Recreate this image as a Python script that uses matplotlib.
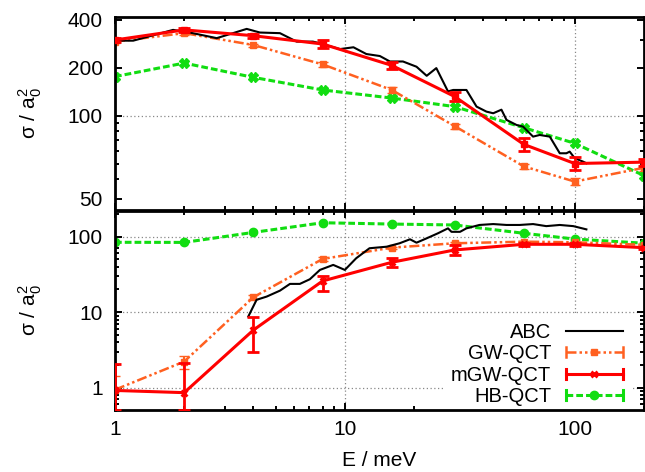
import matplotlib
matplotlib.use("Agg")
import matplotlib.pyplot as plt
from matplotlib.lines import Line2D
from matplotlib.legend_handler import HandlerLine2D
from matplotlib.ticker import NullFormatter, LogLocator

plt.rcParams['font.family'] = ['Liberation Sans', 'DejaVu Sans']
plt.rcParams['mathtext.fontset'] = 'custom'
plt.rcParams['mathtext.rm'] = 'Liberation Sans'
plt.rcParams['mathtext.it'] = 'Liberation Sans'

# energies of the QCT points (meV)
E_qct = [1, 2, 4, 8, 16, 30, 60, 100, 200]

# upper panel
mgw_top     = [299, 346, 318, 282, 207, 132, 66, 50, 51]
mgw_top_err = [9, 10, 9, 16, 10, 8.5, 6.3, 4.8, 2.5]
gw_top      = [292, 330, 278, 210, 145, 86, 48, 38.5, 47]
gw_top_err  = [6, 7, 6, 8, 6, 3, 2, 2, 2]
hb_top      = [176, 214, 174, 145, 129, 114, 84, 67, 42]

abc_top_E = [1.0, 1.2, 1.79, 2.18, 2.77, 3.26, 3.74, 4.27, 5.22, 6.17,
             7.26, 7.79, 9.51, 10.9, 12.4, 14.2, 15.7, 17.9, 20.5, 22.7,
             25.0, 28.1, 29.6, 33.8, 37.4, 41.3, 44.2, 48.0, 50.5, 55.8,
             59.6, 65.9, 70.4, 77.9, 86.1, 92.0, 95.1, 100, 108.7, 112.4]
abc_top = [296, 296, 346, 330, 307, 330, 351, 333, 330, 292,
           292, 285, 262, 269, 244, 237, 219, 219, 203, 178,
           199, 142, 145, 145, 114, 106, 103.5, 109, 94, 87.4,
           85.3, 73.8, 75.6, 73.8, 58, 58, 59.4, 54, 51.4, 50.2]

# lower panel
mgw_bot        = [0.92, 0.86, 5.8, 25.9, 45.8, 66.7, 79.3, 79.3, 71.6]
mgw_bot_err_lo = [0.41, 0.35, 2.8, 6.6, 5.8, 9.7, 4, 4, 2]
mgw_bot_err_hi = [1.13, 1.24, 2.8, 4.3, 5.9, 10.3, 4, 4, 2]
gw_bot         = [0.94, 2.22, 15.8, 50.7, 71.6, 81.8, 85.9, 84.3, 78]
gw_bot_err     = [0.5, 0.45, 1.0, 2.5, 2.5, 2.5, 2.5, 2.5, 2.0]
hb_bot         = [84.3, 84, 114, 153, 147, 143, 111, 93, 82]

abc_bot_E = [3.8, 4.13, 4.57, 5.22, 5.77, 6.37, 7.04, 7.79, 8.9, 10.0,
             11.2, 12.8, 15.2, 17.3, 19.2, 20.5, 22.7, 25.4, 28.1, 29.1,
             31.7, 33.8, 38.5, 44.2, 50.5, 57.6, 65.9, 75.2, 86.1, 98.6,
             112.4]
abc_bot = [8.75, 14.6, 16.1, 19.3, 23.7, 23.7, 27.3, 36.3, 42.3, 36.3,
           51.8, 70.3, 73.7, 81.8, 92.4, 83.3, 95.2, 110.9, 129, 116,
           116, 129, 143, 147, 143, 143, 147, 138, 143, 138,
           125]

labels = ["ABC", "GW-QCT", "mGW-QCT", "HB-QCT"]

RED = "#ff0000"
ORANGE = "#ff6020"
GREEN = "#11dd11"
DASHDOTDOT = (0, (4, 1.2, 1, 1.2, 1, 1.2))
DASHED = (0, (2.2, 1))
GRID = dict(color="#888888", lw=0.9, ls=(0, (1, 2)), zorder=0)


class CapHandler(HandlerLine2D):
    """legend sample with errorbar caps at both ends, gnuplot style"""
    def create_artists(self, legend, orig_handle, xdescent, ydescent,
                       width, height, fontsize, trans):
        arts = super().create_artists(legend, orig_handle, xdescent, ydescent,
                                      width, height, fontsize, trans)
        y = height / 2 - ydescent
        h = 0.35 * height
        for x in (-xdescent, width - xdescent):
            arts.append(Line2D([x, x], [y - h, y + h], transform=trans,
                               color=orig_handle.get_color(),
                               lw=orig_handle.get_linewidth(), ls="-"))
        return arts


fig = plt.figure(figsize=(6.45, 4.72), dpi=100)
ax1 = fig.add_axes([0.1783, 0.555, 0.82, 0.409])
ax2 = fig.add_axes([0.1783, 0.1314, 0.82, 0.4216])

# ---- upper panel
ax1.plot(abc_top_E, abc_top, color="black", lw=1.5, zorder=3)
ax1.errorbar(E_qct, gw_top, yerr=gw_top_err, color=ORANGE, lw=1.8, ls=DASHDOTDOT,
             marker="s", ms=5, capsize=3.5, elinewidth=1.5, zorder=2)
ax1.plot(E_qct, hb_top, color=GREEN, lw=2.2, ls=DASHED, marker="X", ms=7, zorder=2)
ax1.errorbar(E_qct, mgw_top, yerr=mgw_top_err, color=RED, lw=2.2,
             marker="s", ms=5, capsize=4, elinewidth=2, capthick=2, zorder=4)

# ---- lower panel
ax2.plot(abc_bot_E, abc_bot, color="black", lw=1.5, zorder=3)
ax2.errorbar(E_qct, gw_bot, yerr=gw_bot_err, color=ORANGE, lw=1.8, ls=DASHDOTDOT,
             marker="s", ms=4, capsize=3.5, elinewidth=1.5, zorder=2)
ax2.plot(E_qct, hb_bot, color=GREEN, lw=2.2, ls=DASHED, marker="o", ms=6, zorder=2)
ax2.errorbar(E_qct, mgw_bot, yerr=[mgw_bot_err_lo, mgw_bot_err_hi], color=RED,
             lw=2.2, marker="x", ms=5, mew=2, capsize=4, elinewidth=2,
             capthick=2, zorder=4)

for ax in (ax1, ax2):
    ax.set_xscale("log")
    ax.set_yscale("log")
    ax.set_xlim(1, 200)
    ax.xaxis.set_minor_locator(LogLocator(subs=range(2, 10)))
    ax.xaxis.set_minor_formatter(NullFormatter())
    ax.yaxis.set_minor_formatter(NullFormatter())
    ax.tick_params(which="both", direction="in", top=True, right=True,
                   width=1.4, labelsize=15)
    ax.tick_params(which="major", length=5)
    ax.tick_params(which="minor", length=3)
    ax.tick_params(axis="y", pad=9)
    for s in ax.spines.values():
        s.set_linewidth(2)
    for e in (10, 100):
        ax.axvline(e, **GRID)

ax1.set_ylim(25.5, 417)
ax1.set_yticks([30, 100, 200, 400], labels=["50", "100", "200", "400"])
ax1.axhline(100, **GRID)
ax1.set_xticks([1, 10, 100], labels=[])

ax2.set_ylim(0.507, 219)
ax2.set_yticks([1, 10, 100], labels=["1", "10", "100"])
for v in (1, 10, 100):
    ax2.axhline(v, **GRID)
ax2.set_xticks([1, 10, 100], labels=["1", "10", "100"])
ax2.tick_params(axis="x", pad=7)
ax2.set_xlabel("E / meV", fontsize=15, labelpad=9)

for ax in (ax1, ax2):
    ax.set_ylabel(r"σ / a$_0^2$", fontsize=15)
    ax.yaxis.set_label_coords(-0.135, 0.5)

# legend, text first and samples on the right
h_abc = Line2D([], [], color="black", lw=1.5)
h_gw = Line2D([], [], color=ORANGE, lw=1.8, ls=DASHDOTDOT, marker="s", ms=4)
h_mgw = Line2D([], [], color=RED, lw=2.2, marker="x", ms=5, mew=2)
h_hb = Line2D([], [], color=GREEN, lw=2.2, ls=DASHED, marker="o", ms=6)
leg = ax2.legend([h_abc, h_gw, h_mgw, h_hb], labels, loc="lower right",
                 bbox_to_anchor=(0.994, -0.072), markerfirst=False, numpoints=1,
                 fontsize=14.5, handlelength=2.8, handletextpad=0.75,
                 labelspacing=0.12, borderpad=0.4, fancybox=False,
                 framealpha=1, facecolor="white", edgecolor="none",
                 handler_map={h_gw: CapHandler(), h_mgw: CapHandler(),
                              h_hb: CapHandler()})
leg.set_zorder(2.4)

fig.savefig("out.png", dpi=100)
